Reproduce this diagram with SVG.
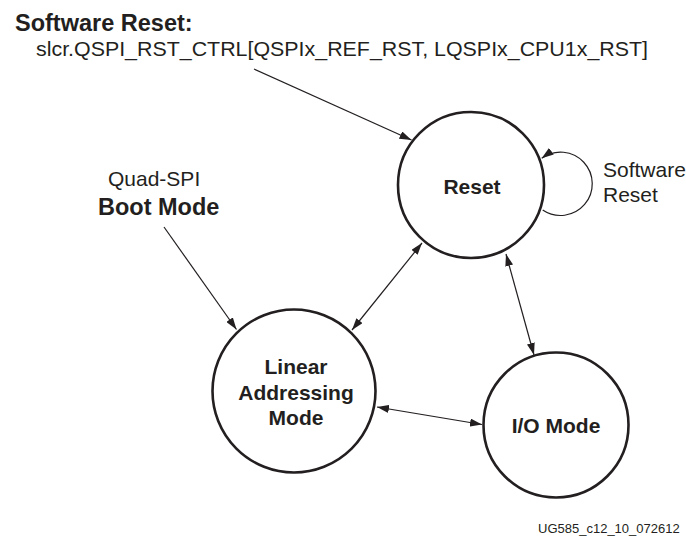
<svg xmlns="http://www.w3.org/2000/svg" width="686" height="539" viewBox="0 0 686 539">
<defs>
<style>
.t{font-family:"Liberation Sans",Arial,Helvetica,sans-serif;fill:#231f20}
.r{font-size:21px}
.b{font-weight:bold}
.node{fill:#fff;stroke:#231f20;stroke-width:2.6}
.c{fill:none;stroke:#231f20;stroke-width:1.2}
</style>
<marker id="ah" markerWidth="12" markerHeight="8" refX="12" refY="4" orient="auto-start-reverse" markerUnits="userSpaceOnUse">
<path d="M0,0 L12,4 L0,8 z" fill="#231f20"/>
</marker>
</defs>
<rect width="686" height="539" fill="#fff"/>

<g id="header">
<text class="t b" x="15" y="31" font-size="23.5">Software Reset:</text>
<text class="t r" x="36" y="56" textLength="612" lengthAdjust="spacingAndGlyphs">slcr.QSPI_RST_CTRL[QSPIx_REF_RST, LQSPIx_CPU1x_RST]</text>
</g>

<g id="boot-label">
<text class="t r" x="108" y="186">Quad-SPI</text>
<text class="t b" x="98" y="215" font-size="23.5">Boot Mode</text>
</g>

<g id="connectors">
<line class="c" x1="254" y1="69" x2="411.5" y2="140" marker-end="url(#ah)"/>
<line class="c" x1="164" y1="227" x2="236.5" y2="329.5" marker-end="url(#ah)"/>
<line class="c" x1="352" y1="330" x2="422" y2="243" marker-start="url(#ah)" marker-end="url(#ah)"/>
<line class="c" x1="506" y1="254" x2="534" y2="355" marker-start="url(#ah)" marker-end="url(#ah)"/>
<line class="c" x1="377" y1="407" x2="482" y2="424.5" marker-start="url(#ah)" marker-end="url(#ah)"/>
<path class="c" d="M542.7,210 A31.7,31.7 0 1 0 541.7,158.3" marker-end="url(#ah)"/>
</g>

<g id="reset">
<circle class="node" cx="471" cy="185" r="73"/>
<text class="t r b" x="472" y="194" text-anchor="middle">Reset</text>
</g>

<g id="software-reset-label">
<text class="t r" x="603" y="177">Software</text>
<text class="t r" x="603" y="202">Reset</text>
</g>

<g id="linear">
<circle class="node" cx="294" cy="391" r="81.5"/>
<text class="t r b" x="296" y="374" text-anchor="middle">Linear</text>
<text class="t r b" x="296" y="400" text-anchor="middle">Addressing</text>
<text class="t r b" x="296" y="425" text-anchor="middle">Mode</text>
</g>

<g id="io">
<circle class="node" cx="556" cy="425" r="72.5"/>
<text class="t r b" x="556" y="433" text-anchor="middle">I/O Mode</text>
</g>

<g id="figure-id">
<text class="t" x="538" y="533" font-size="13">UG585_c12_10_072612</text>
</g>
</svg>
